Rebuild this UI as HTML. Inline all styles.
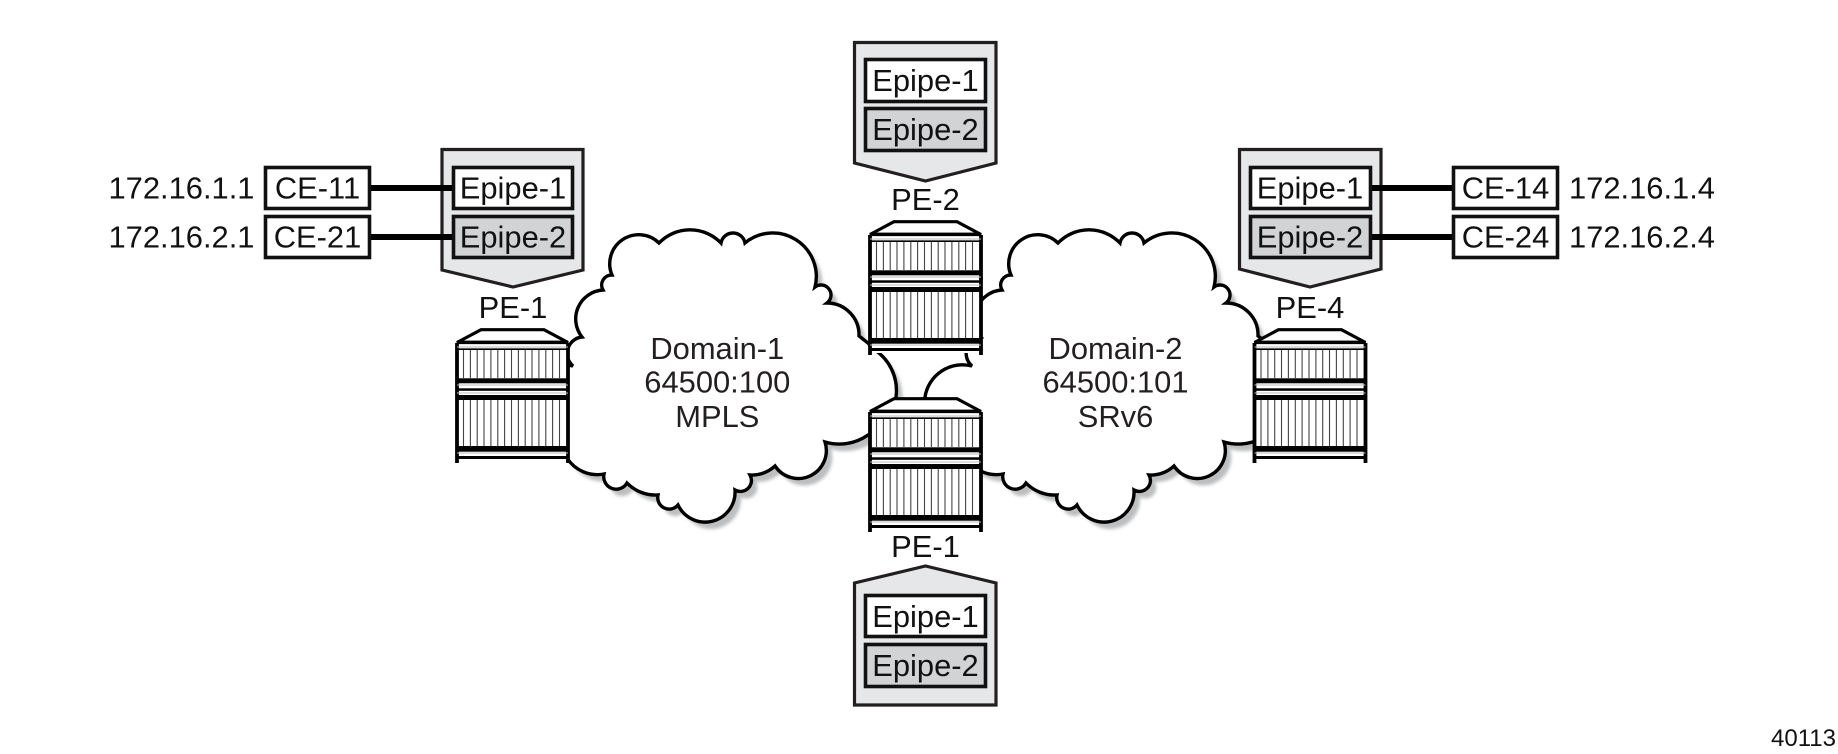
<!DOCTYPE html>
<html lang="en">
<head>
<meta charset="utf-8">
<title>Epipe diagram</title>
<style>
html,body{margin:0;padding:0;background:#fff;width:1838px;height:754px;overflow:hidden}
svg{display:block}
text{font-family:"Liberation Sans",sans-serif;font-size:30.9px;fill:#111;text-anchor:middle}
.box{stroke:#111;stroke-width:3.6;fill:#fff}
.g{fill:#d1d3d4}
.pent{fill:#e6e7e8;stroke:#231f20;stroke-width:3.2;stroke-linejoin:miter}
.link{stroke:#000;stroke-width:6;fill:none}
.dom{fill:#231f20}
</style>
</head>
<body>
<svg width="1838" height="754" viewBox="0 0 1838 754" xmlns="http://www.w3.org/2000/svg">
<defs>
<filter id="b" x="-10%" y="-10%" width="120%" height="120%"><feGaussianBlur stdDeviation="1.6"/></filter>
<path id="cloud" d="M582,337 A29,29 0 0 1 603,290 A10,10 0 0 1 612,275 A29,29 0 0 1 659,243 A43,43 0 0 1 721,243 A12.2,12.2 0 0 1 745,243 A43.5,43.5 0 0 1 815,287 A9,9 0 0 1 827,303 A32,32 0 0 1 859,336 L868,343 L875,350 A49,49 0 0 1 868,435 A50,50 0 0 1 825,442 A28,28 0 0 1 775,466 A35,35 0 0 1 750,475 A11,11 0 0 1 735,490 A30,30 0 0 1 678,505 A11.5,11.5 0 0 1 658,495 A40,40 0 0 1 627,483 A12.5,12.5 0 0 1 604,474 A36,36 0 0 1 567,458 L526,397 A38,38 0 0 1 573,366 A16.5,16.5 0 0 1 582,337 Z"/>
<g id="rt">
<rect x="2" y="14" width="111" height="119" fill="#fff"/>
<path d="M8.5,22V50M15.4,22V50M22.2,22V50M29,22V50M35.9,22V50M42.8,22V50M49.6,22V50M56.5,22V50M63.4,22V50M70.2,22V50M77,22V50M83.9,22V50M90.8,22V50M97.6,22V50M104.5,22V50M8.5,72V118M15.4,72V118M22.2,72V118M29,72V118M35.9,72V118M42.8,72V118M49.6,72V118M56.5,72V118M63.4,72V118M70.2,72V118M77,72V118M83.9,72V118M90.8,72V118M97.6,72V118M104.5,72V118" stroke="#444" stroke-width="1.1" fill="none"/>
<path d="M2,14.5 L26,1.7 H89 L113,14.5 Z" fill="#fff" stroke="#000" stroke-width="3.2" stroke-linejoin="miter"/>
<path d="M2,15V135M113,15V135" stroke="#000" stroke-width="3.8" fill="none"/>
<path d="M2,13.7H113" stroke="#000" stroke-width="2.2"/>
<path d="M2,21.2H113" stroke="#000" stroke-width="1.7"/>
<path d="M2,19H113M2,57H113M2,65H113M2,125H113" stroke="#bbb" stroke-width="1"/>
<rect x="2" y="50.3" width="111" height="5" fill="#000"/>
<rect x="2" y="60.3" width="111" height="2.5" fill="#000"/>
<rect x="2" y="67" width="111" height="5" fill="#000"/>
<rect x="2" y="118" width="111" height="5.7" fill="#000"/>
<rect x="2" y="128" width="111" height="3" fill="#000"/>
</g>
</defs>

<!-- clouds -->
<use href="#cloud" transform="translate(6,7)" fill="#bcbec0" filter="url(#b)"/>
<use href="#cloud" fill="#fff" stroke="#000" stroke-width="3.4" stroke-linejoin="miter"/>
<g transform="translate(399,0)">
<use href="#cloud" transform="translate(6,7)" fill="#bcbec0" filter="url(#b)"/>
<use href="#cloud" fill="#fff" stroke="#000" stroke-width="3.4" stroke-linejoin="miter"/>
</g>

<!-- routers -->
<use href="#rt" x="455" y="328"/>
<use href="#rt" x="868" y="220"/>
<use href="#rt" x="868" y="397"/>
<use href="#rt" x="1252.5" y="328"/>

<!-- left pentagon -->
<path class="pent" d="M442,149.5H583V270L513,287L442,270Z"/>
<path class="link" d="M371,188H452M371,237H452"/>
<rect class="box" x="453.5" y="167.5" width="119" height="41"/>
<rect class="box g" x="453.5" y="216.5" width="119" height="41"/>
<rect class="box" x="265.5" y="167.5" width="104" height="41"/>
<rect class="box" x="265.5" y="216.5" width="104" height="41"/>
<text x="181.5" y="198.5">172.16.1.1</text>
<text x="181.5" y="247.5">172.16.2.1</text>
<text x="317.5" y="198.5">CE-11</text>
<text x="317.5" y="247.5">CE-21</text>
<text x="513" y="198.5">Epipe-1</text>
<text x="513" y="247.5">Epipe-2</text>
<text x="513" y="318">PE-1</text>

<!-- top pentagon -->
<path class="pent" d="M854.5,42.5H996V163L925.5,181L854.5,163Z"/>
<rect class="box" x="865.5" y="59.5" width="120" height="42"/>
<rect class="box g" x="865.5" y="108.5" width="120" height="42"/>
<text x="925.5" y="91">Epipe-1</text>
<text x="925.5" y="140">Epipe-2</text>
<text x="925.5" y="210">PE-2</text>

<!-- bottom pentagon -->
<path class="pent" d="M854.5,705H996V583L925.5,566L854.5,583Z"/>
<rect class="box" x="865.5" y="595.5" width="120" height="41"/>
<rect class="box g" x="865.5" y="644.5" width="120" height="42"/>
<text x="925.5" y="627">Epipe-1</text>
<text x="925.5" y="676">Epipe-2</text>
<text x="925.5" y="557">PE-1</text>

<!-- right pentagon -->
<path class="pent" d="M1239.5,149.5H1381V269L1310,287L1239.5,269Z"/>
<path class="link" d="M1372,188H1453M1372,237H1453"/>
<rect class="box" x="1250.5" y="167.5" width="120" height="41"/>
<rect class="box g" x="1250.5" y="216.5" width="120" height="41"/>
<rect class="box" x="1453.5" y="167.5" width="104" height="41"/>
<rect class="box" x="1453.5" y="216.5" width="104" height="41"/>
<text x="1310" y="198.5">Epipe-1</text>
<text x="1310" y="247.5">Epipe-2</text>
<text x="1505.5" y="198.5">CE-14</text>
<text x="1505.5" y="247.5">CE-24</text>
<text x="1642" y="198.5">172.16.1.4</text>
<text x="1642" y="247.5">172.16.2.4</text>
<text x="1310" y="318">PE-4</text>

<!-- domain labels -->
<text class="dom" x="717.3" y="359">Domain-1</text>
<text class="dom" x="717.3" y="392.5">64500:100</text>
<text class="dom" x="717.3" y="427">MPLS</text>
<text class="dom" x="1115.5" y="359">Domain-2</text>
<text class="dom" x="1115.5" y="392.5">64500:101</text>
<text class="dom" x="1115.5" y="427">SRv6</text>

<text x="1803.5" y="746" style="font-size:24px">40113</text>
</svg>
</body>
</html>
